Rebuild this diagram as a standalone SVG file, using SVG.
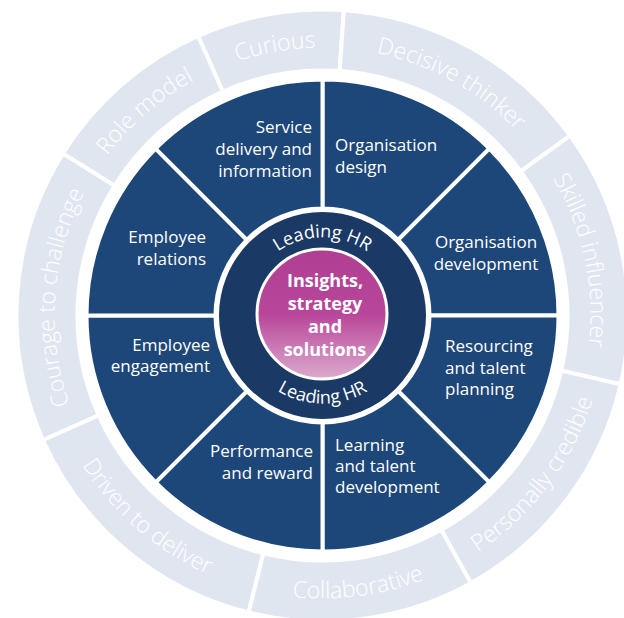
<svg xmlns="http://www.w3.org/2000/svg" width="624" height="618" viewBox="0 0 624 618">
<defs>
<style>
.seg{fill:#e0e6f0;stroke:#fff;stroke-width:4}
.sec{fill:#1d4679;stroke:#fff;stroke-width:4}
.ring{font-family:"Open Sans","Liberation Sans",sans-serif;font-size:23px;font-weight:300;fill:#fff}
.lbl{font-family:"Open Sans","Liberation Sans",sans-serif;font-size:17px;fill:#fff}
.lhr{font-family:"Open Sans","Liberation Sans",sans-serif;font-size:18px;fill:#fff}
.ctr{font-family:"Open Sans","Liberation Sans",sans-serif;font-size:18px;font-weight:bold;fill:#fff;text-anchor:middle}
</style>
<linearGradient id="pink" x1="0" y1="0" x2="0" y2="1">
<stop offset="0" stop-color="#b03f92"/>
<stop offset="0.5" stop-color="#b8469a"/>
<stop offset="1" stop-color="#dcaacd"/>
</linearGradient>
<path id="tCurious" d="M-263.93,-46.54 A268,268 0 0 1 232.10,-134.00"/>
<path id="tDecisive" d="M-175.82,-202.26 A268,268 0 0 1 264.70,41.92"/>
<path id="tSkilled" d="M37.30,-265.39 A268,268 0 0 1 142.02,227.28"/>
<path id="tCourage" d="M-109.01,244.83 A268,268 0 0 1 -73.87,-257.62"/>
<path id="tRole" d="M-250.20,96.04 A268,268 0 0 1 129.93,-234.40"/>
<path id="tPersonally" d="M-82.74,270.63 A283,283 0 0 0 237.34,-154.13"/>
<path id="tCollab" d="M-251.02,130.67 A283,283 0 0 0 276.29,61.25"/>
<path id="tDriven" d="M-264.20,-101.42 A283,283 0 0 0 137.20,247.52"/>
<path id="tLeadTop" d="M-73.30,-26.68 A78,78 0 0 1 73.30,-26.68"/>
<path id="tLeadBot" d="M-82.69,30.10 A88,88 0 0 0 82.69,30.10"/>
</defs>
<rect width="624" height="618" fill="#fff"/>

<g transform="translate(322.5 315.5)">
<g id="outer-ring">
<g id="curious"><path class="seg" d="M-124.46,-279.55 A306,306 0 0 1 21.35,-305.25 L17.09,-244.40 A245,245 0 0 0 -99.65,-223.82 Z"/><text class="ring" text-anchor="middle"><textPath href="#tCurious" startOffset="50%">Curious</textPath></text></g>
<g id="decisive-thinker"><path class="seg" d="M21.35,-305.25 A306,306 0 0 1 247.56,-179.86 L198.21,-144.01 A245,245 0 0 0 17.09,-244.40 Z"/><text class="ring" text-anchor="middle"><textPath href="#tDecisive" startOffset="50%">Decisive thinker</textPath></text></g>
<g id="skilled-influencer"><path class="seg" d="M247.56,-179.86 A306,306 0 0 1 298.16,68.83 L238.72,55.11 A245,245 0 0 0 198.21,-144.01 Z"/><text class="ring" text-anchor="middle"><textPath href="#tSkilled" startOffset="50%">Skilled influencer</textPath></text></g>
<g id="personally-credible"><path class="seg" d="M298.16,68.83 A306,306 0 0 1 148.35,267.63 L118.78,214.28 A245,245 0 0 0 238.72,55.11 Z"/><text class="ring" text-anchor="middle"><textPath href="#tPersonally" startOffset="50%">Personally credible</textPath></text></g>
<g id="collaborative"><path class="seg" d="M148.35,267.63 A306,306 0 0 1 -74.03,296.91 L-59.27,237.72 A245,245 0 0 0 118.78,214.28 Z"/><text class="ring" text-anchor="middle"><textPath href="#tCollab" startOffset="50%">Collaborative</textPath></text></g>
<g id="driven-to-deliver"><path class="seg" d="M-74.03,296.91 A306,306 0 0 1 -279.54,124.46 L-223.82,99.65 A245,245 0 0 0 -59.27,237.72 Z"/><text class="ring" text-anchor="middle"><textPath href="#tDriven" startOffset="50%">Driven to deliver</textPath></text></g>
<g id="courage-to-challenge"><path class="seg" d="M-279.54,124.46 A306,306 0 0 1 -259.50,-162.15 L-207.77,-129.83 A245,245 0 0 0 -223.82,99.65 Z"/><text class="ring" text-anchor="middle"><textPath href="#tCourage" startOffset="50%">Courage to challenge</textPath></text></g>
<g id="role-model"><path class="seg" d="M-259.50,-162.15 A306,306 0 0 1 -124.46,-279.55 L-99.65,-223.82 A245,245 0 0 0 -207.77,-129.83 Z"/><text class="ring" text-anchor="middle"><textPath href="#tRole" startOffset="50%">Role model</textPath></text></g>
</g>

<g id="sectors">
<g id="organisation-design"><path class="sec" d="M0,-236 A236,236 0 0 1 166.88,-166.88 L75.66,-75.66 A107,107 0 0 0 0,-107 Z"/></g>
<g id="organisation-development"><path class="sec" d="M166.88,-166.88 A236,236 0 0 1 236,0 L107,0 A107,107 0 0 0 75.66,-75.66 Z"/></g>
<g id="resourcing"><path class="sec" d="M236,0 A236,236 0 0 1 166.88,166.88 L75.66,75.66 A107,107 0 0 0 107,0 Z"/></g>
<g id="learning"><path class="sec" d="M166.88,166.88 A236,236 0 0 1 0,236 L0,107 A107,107 0 0 0 75.66,75.66 Z"/></g>
<g id="performance"><path class="sec" d="M0,236 A236,236 0 0 1 -166.88,166.88 L-75.66,75.66 A107,107 0 0 0 0,107 Z"/></g>
<g id="employee-engagement"><path class="sec" d="M-166.88,166.88 A236,236 0 0 1 -236,0 L-107,0 A107,107 0 0 0 -75.66,75.66 Z"/></g>
<g id="employee-relations"><path class="sec" d="M-236,0 A236,236 0 0 1 -166.88,-166.88 L-75.66,-75.66 A107,107 0 0 0 -107,0 Z"/></g>
<g id="service-delivery"><path class="sec" d="M-166.88,-166.88 A236,236 0 0 1 0,-236 L0,-107 A107,107 0 0 0 -75.66,-75.66 Z"/></g>
</g>

<g id="leading-hr">
<circle r="105" fill="#1a3964" stroke="#fff" stroke-width="3"/>
<text class="lhr" text-anchor="middle"><textPath href="#tLeadTop" startOffset="50%">Leading HR</textPath></text>
<text class="lhr" text-anchor="middle"><textPath href="#tLeadBot" startOffset="50%">Leading HR</textPath></text>
</g>
</g>

<g id="sector-labels">
<text class="lbl" x="335"><tspan x="335" y="151">Organisation</tspan><tspan x="335" y="172.5">design</tspan></text>
<text class="lbl" text-anchor="middle"><tspan x="486" y="248">Organisation</tspan><tspan x="486" y="270">development</tspan></text>
<text class="lbl"><tspan x="445" y="352">Resourcing</tspan><tspan x="445" y="374">and talent</tspan><tspan x="445" y="395">planning</tspan></text>
<text class="lbl"><tspan x="335" y="451">Learning</tspan><tspan x="335" y="472">and talent</tspan><tspan x="335" y="493">development</tspan></text>
<text class="lbl" text-anchor="end"><tspan x="313" y="457">Performance</tspan><tspan x="313" y="479">and reward</tspan></text>
<text class="lbl" text-anchor="end"><tspan x="210" y="351">Employee</tspan><tspan x="210" y="372">engagement</tspan></text>
<text class="lbl" text-anchor="end"><tspan x="206" y="243">Employee</tspan><tspan x="206" y="265">relations</tspan></text>
<text class="lbl" text-anchor="end"><tspan x="312" y="133">Service</tspan><tspan x="312" y="155">delivery and</tspan><tspan x="312" y="177">information</tspan></text>
</g>

<g id="insights">
<circle cx="322" cy="314" r="65" fill="url(#pink)" stroke="#fff" stroke-width="3"/>
<text class="ctr"><tspan x="325" y="286.5">Insights,</tspan><tspan x="325" y="309.5">strategy</tspan><tspan x="325" y="332.5">and</tspan><tspan x="325" y="355.5">solutions</tspan></text>
</g>
</svg>
